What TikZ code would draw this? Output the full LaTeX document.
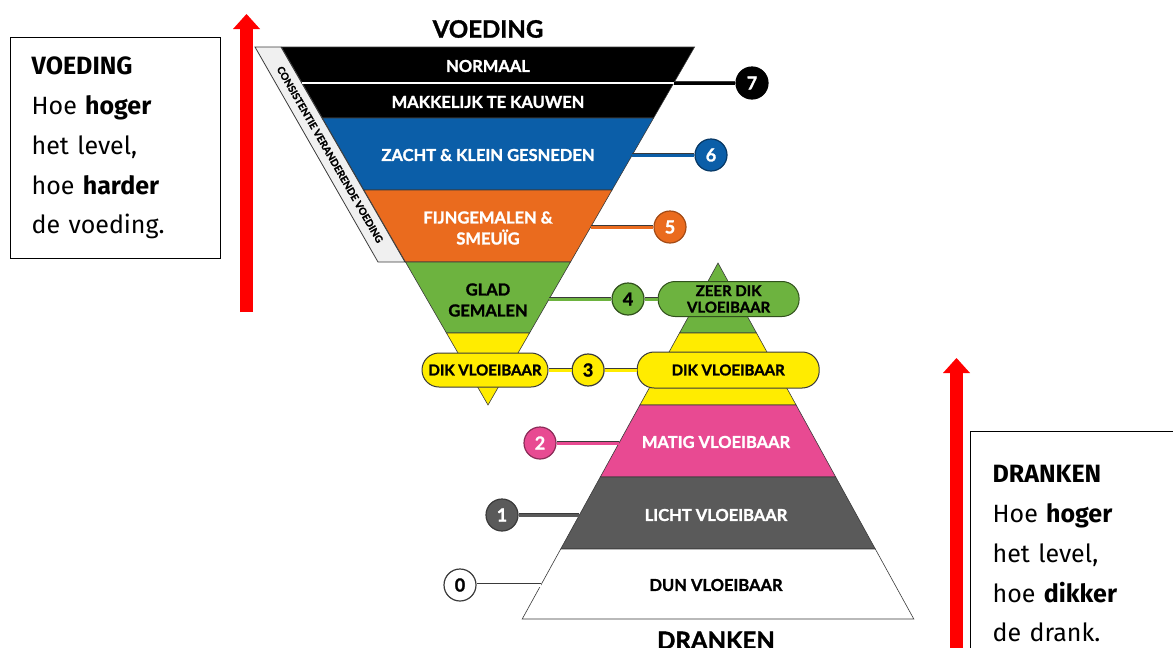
\documentclass[tikz,border=0pt]{standalone}
\usepackage{fontspec}
\setmainfont{Lato}
\newfontfamily\iddsi{Lato}[BoldFeatures={FakeBold=1.4}]
\newfontfamily\kaderfont{Fira Sans}
\usetikzlibrary{positioning, arrows.meta}
\definecolor{iBlue}{HTML}{0B5EA8}
\definecolor{iOrange}{HTML}{EA6B1E}
\definecolor{iGreen}{HTML}{6DB33F}
\definecolor{iYellow}{HTML}{FFEC00}
\definecolor{iPink}{HTML}{E84A92}
\definecolor{iGray}{HTML}{5A5A5A}
\definecolor{iEdge}{HTML}{3A3A3A}
\tikzset{L/.style={circle, line width=1.2pt, minimum size=32pt, inner sep=0pt, font=\iddsi\fontsize{18}{18}\selectfont\bfseries}}
\tikzset{P/.style={draw=iEdge, line width=1pt, rounded corners=17pt, inner sep=0pt, align=center, font=\iddsi\fontsize{15}{16.5}\selectfont\bfseries}}
\tikzset{T/.style={align=center, font=\iddsi\fontsize{16.5}{21}\selectfont\bfseries}}
\tikzset{E/.style={draw=iEdge, double=#1, double distance=3pt, line width=0.9pt}}
\tikzset{BX/.style={draw, line width=1.3pt, align=left, anchor=north west, font=\kaderfont\fontsize{25}{39.7}\selectfont}}
\tikzset{RA/.style={draw=red, line width=13pt, -{Triangle[length=15pt, width=27pt, line width=0pt]}}}

\begin{document}
\begin{tikzpicture}[x=1pt, y=-1pt]
        \useasboundingbox (0,0) rectangle (1173,648);
        %% Red arrows
        \coordinate (vb) at (246.5,312);
        \coordinate (vt) at (246.5,14);
        \draw[RA] (vb) -- (vt);
        \coordinate (db) at (956.5,660);
        \coordinate (dt) at (956.5,358);
        \draw[RA] (db) -- (dt);
        %% Boxes
        \node[BX, minimum height=221pt, text width=168pt, inner xsep=21pt, inner ysep=16pt] (kvoeding) at (10,37)
            {\textbf{VOEDING}\\ Hoe \textbf{hoger}\\ het level,\\ hoe \textbf{harder}\\ de voeding.};
        \node[BX, text width=190pt, inner xsep=22pt, inner ysep=34pt] (kdranken) at (970,431)
            {\textbf{DRANKEN}\\ Hoe \textbf{hoger}\\ het level,\\ hoe \textbf{dikker}\\ de drank.};
        %% Titles
        \node[font=\iddsi\fontsize{24}{24}\selectfont\bfseries] (tvoeding) at (488,29) {VOEDING};
        \node[font=\iddsi\fontsize{24}{24}\selectfont\bfseries, anchor=base] (tdranken) at (716,649) {DRANKEN};
        %% Side strip
        \draw[draw=iEdge, fill=gray!12, line width=0.8pt] (255,47) -- (281,47) -- (405,262) -- (378,262) -- cycle;
        \node[rotate=-60, font=\iddsi\fontsize{10}{10}\selectfont\bfseries] (strip) at (330,154.5) {CONSISTENTIE VERANDERENDE VOEDING};
        %% Funnel (voeding)
        \foreach \ya/\yb/\kleur in {47/118/black, 118/190/iBlue, 190/262/iOrange, 262/333/iGreen, 333/405/iYellow}
            \filldraw[fill=\kleur, draw=iEdge, line width=0.6pt] ({488-0.577*(405-\ya)},\ya) -- ({488+0.577*(405-\ya)},\ya)
                -- ({488+0.577*(405-\yb)},\yb) -- ({488-0.577*(405-\yb)},\yb) -- cycle;
        \coordinate (f7l) at (302.2,83);
        \coordinate (f7) at (673.8,83);
        \coordinate (f6) at (632.3,155);
        \coordinate (f5) at (590.7,227);
        \coordinate (f4) at (549.2,299);
        \draw[white, line width=2pt] (f7l) -- (f7);
        %% Pyramid (dranken)
        \foreach \ya/\yb/\kleur in {263/333/iGreen, 333/405/iYellow, 405/477/iPink, 477/549/iGray, 549/619/white}
            \filldraw[fill=\kleur, draw=iEdge, line width=0.6pt] ({718-0.55*(\ya-263)},\ya) -- ({718+0.55*(\ya-263)},\ya)
                -- ({718+0.55*(\yb-263)},\yb) -- ({718-0.55*(\yb-263)},\yb) -- cycle;
        \coordinate (p2) at (619,443);
        \coordinate (p1) at (579.4,515);
        \coordinate (p0) at (540.9,585);
        %% Band labels
        \node[T, text=white] (normaal) at (488,66) {NORMAAL};
        \node[T, text=white] (kauwen) at (488,102) {MAKKELIJK TE KAUWEN};
        \node[T, text=white] (zacht) at (488,155) {ZACHT \& KLEIN GESNEDEN};
        \node[T, text=white] (fijn) at (488,228) {FIJNGEMALEN \&\\ SMEUÏG};
        \node[T] (glad) at (488,300) {GLAD\\ GEMALEN};
        \node[T, text=white] (matig) at (716,442) {MATIG VLOEIBAAR};
        \node[T, text=white] (licht) at (716,515) {LICHT VLOEIBAAR};
        \node[T] (dun) at (716,585) {DUN VLOEIBAAR};
        %% Levels
        \node[L, fill=black, draw=black, text=white] (l7) at (752,83) {7};
        \node[L, fill=iBlue, draw=iBlue!60!black, text=white] (l6) at (711,155) {6};
        \node[L, fill=iOrange, draw=iOrange!70!black, text=white] (l5) at (670,227) {5};
        \node[L, fill=iGreen, draw=iGreen!45!black] (l4) at (628,299) {4};
        \node[P, fill=iGreen, draw=iGreen!45!black, minimum width=141pt, minimum height=35pt, right=13pt of l4] (zeerdik) {ZEER DIK\\ VLOEIBAAR};
        \node[P, fill=iYellow, minimum width=126pt, minimum height=34pt] (dikL) at (485,370) {DIK VLOEIBAAR};
        \node[L, fill=iYellow, draw=iEdge, right=23pt of dikL] (l3) {3};
        \node[P, fill=iYellow, minimum width=182pt, minimum height=36pt, right=32pt of l3] (dikR) {DIK VLOEIBAAR};
        \node[L, fill=iPink, draw=iPink!60!black, text=white] (l2) at (540,443) {2};
        \node[L, fill=iGray, draw=iEdge, text=white] (l1) at (502,515) {1};
        \node[L, fill=white, draw=iEdge] (l0) at (460,585) {0};
        %% Connectors
        \draw[E=black] (f7) -- (l7);
        \draw[E=iBlue] (f6) -- (l6);
        \draw[E=iOrange] (f5) -- (l5);
        \draw[E=iGreen] (f4) -- (l4);
        \draw[E=iGreen] (l4) -- (zeerdik);
        \draw[E=iYellow] (dikL) -- (l3);
        \draw[E=iYellow] (l3) -- (dikR);
        \draw[E=iPink] (l2) -- (p2);
        \draw[E=iGray] (l1) -- (p1);
        \draw[E=white] (l0) -- (p0);
\end{tikzpicture}
\end{document}
